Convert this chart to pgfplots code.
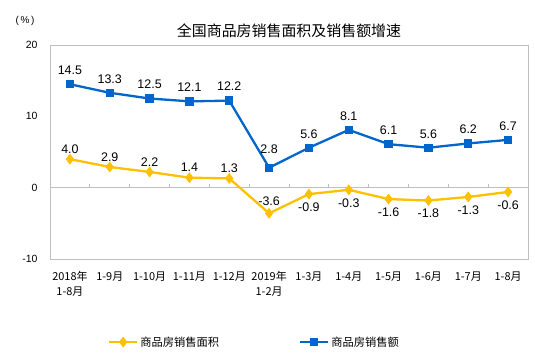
\documentclass[border=0pt]{standalone}
\usepackage{pgfplots}
\pgfplotsset{compat=1.18}
\usepackage{fontspec}
\setmainfont{Liberation Sans}
\newfontfamily\cjk{Noto Sans CJK SC}
\definecolor{cy}{HTML}{FFC000}
\definecolor{cb}{HTML}{0066CC}
\definecolor{fr}{HTML}{BFBFBF}
\begin{document}
\begin{tikzpicture}[x=1bp,y=1bp]
\path[use as bounding box] (0,0) rectangle (535,362);
\node[anchor=east, font=\fontsize{10}{12}\selectfont] at (38,341) {(\,\%\,)};
\node[font=\cjk\fontsize{15}{17}\selectfont] at (289,331) {全国商品房销售面积及销售额增速};
\begin{axis}[
  at={(50bp,103bp)}, anchor=south west,
  scale only axis, width=478bp, height=214bp,
  xmin=-0.5, xmax=11.5, ymin=-10, ymax=20,
  axis line style={fr, line width=0.8bp},
  xtick={0,...,11},
  xticklabels={{2018年\\1-8月},1-9月,1-10月,1-11月,1-12月,{2019年\\1-2月},1-3月,1-4月,1-5月,1-6月,1-7月,1-8月},
  ytick={-10,0,10,20},
  major tick length=0,
  tick style={draw=none},
  /pgf/number format/assume math mode=true,
  yticklabel style={font=\fontsize{10.5}{12}\selectfont, xshift=-9bp},
  xticklabel style={font=\cjk\fontsize{11}{15}\selectfont, align=center, yshift=-9bp},
  clip=false,
  legend columns=2,
  legend style={at={(0.121,-0.388)}, anchor=west, draw=none, fill=none, inner sep=0pt,
    font=\cjk\fontsize{11.3}{13}\selectfont,
    /tikz/every even column/.append style={column sep=78bp}},
  legend image code/.code={\draw[mark repeat=2,mark phase=2,#1] plot coordinates {(0bp,0bp) (14bp,0bp) (28bp,0bp)};},
]
\draw[fr, line width=0.8bp] (axis cs:-0.5,0) -- (axis cs:11.5,0);
\pgfplotsinvokeforeach{0.5,1.5,2.5,3.5,4.5,5.5,6.5,7.5,8.5,9.5,10.5}{
  \draw[fr, line width=0.8bp] (axis cs:#1,0) -- (axis cs:#1,0.5);
}
\addplot[cy, line width=2.3bp, mark=diamond*, mark size=3.6bp, mark options={solid, fill=cy}]
  coordinates {(0,4.0)(1,2.9)(2,2.2)(3,1.4)(4,1.3)(5,-3.6)(6,-0.9)(7,-0.3)(8,-1.6)(9,-1.8)(10,-1.3)(11,-0.6)};
\addlegendentry{商品房销售面积}
\addplot[cb, line width=2.3bp, mark=square*, mark size=3bp, mark options={solid, fill=cb}]
  coordinates {(0,14.5)(1,13.3)(2,12.5)(3,12.1)(4,12.2)(5,2.8)(6,5.6)(7,8.1)(8,6.1)(9,5.6)(10,6.2)(11,6.7)};
\addlegendentry{商品房销售额}
% labels
\addplot[draw=none, forget plot, point meta=explicit symbolic, nodes near coords,
  nodes near coords style={font=\fontsize{12.5}{14}\selectfont, text=black, anchor=center, yshift=14bp}]
  coordinates {(0,14.5)[14.5](1,13.3)[13.3](2,12.5)[12.5](3,12.1)[12.1](4,12.2)[12.2](6,5.6)[5.6](7,8.1)[8.1](8,6.1)[6.1](9,5.6)[5.6](10,6.2)[6.2](11,6.7)[6.7]};
\addplot[draw=none, forget plot, point meta=explicit symbolic, nodes near coords,
  nodes near coords style={font=\fontsize{12.5}{14}\selectfont, text=black, anchor=center, yshift=18bp}]
  coordinates {(5,2.8)[2.8]};
\addplot[draw=none, forget plot, point meta=explicit symbolic, nodes near coords,
  nodes near coords style={font=\fontsize{12.5}{14}\selectfont, text=black, anchor=center, yshift=10bp}]
  coordinates {(0,4.0)[4.0](1,2.9)[2.9](2,2.2)[2.2](3,1.4)[1.4](4,1.3)[1.3]};
\addplot[draw=none, forget plot, point meta=explicit symbolic, nodes near coords,
  nodes near coords style={font=\fontsize{12.5}{14}\selectfont, text=black, anchor=center, yshift=12bp}]
  coordinates {(5,-3.6)[-3.6]};
\addplot[draw=none, forget plot, point meta=explicit symbolic, nodes near coords,
  nodes near coords style={font=\fontsize{12.5}{14}\selectfont, text=black, anchor=center, yshift=-13bp}]
  coordinates {(6,-0.9)[-0.9](7,-0.3)[-0.3](8,-1.6)[-1.6](9,-1.8)[-1.8](10,-1.3)[-1.3](11,-0.6)[-0.6]};
\end{axis}
\end{tikzpicture}
\end{document}
